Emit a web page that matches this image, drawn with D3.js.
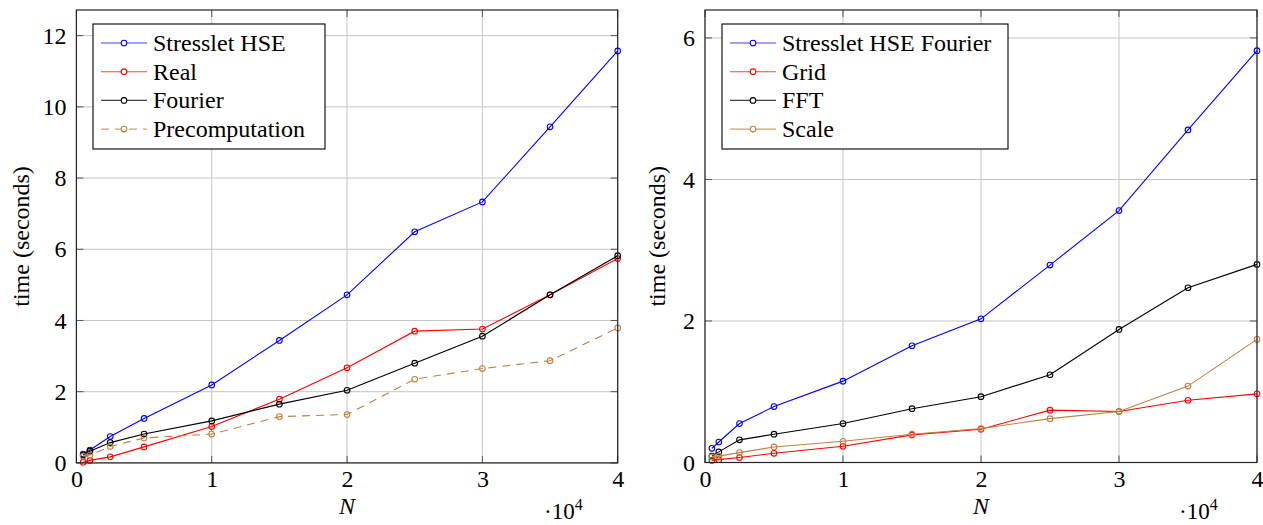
<!DOCTYPE html>
<html>
<head>
<meta charset="utf-8">
<script src="https://cdn.jsdelivr.net/npm/d3@7"></script>
<style>
  html, body { margin: 0; padding: 0; background: #fff; }
  svg { display: block; }
  text { font-family: "Liberation Serif", "Times New Roman", serif; fill: #000; }
</style>
</head>
<body>
<svg id="chart" width="1263" height="525"></svg>
<script>
// ---------- data ----------
const N = [500, 1000, 2500, 5000, 10000, 15000, 20000, 25000, 30000, 35000, 40000];

// left panel
const leftStressletHSE = [0.25, 0.36, 0.74, 1.25, 2.19, 3.44, 4.72, 6.49, 7.33, 9.44, 11.57];
const leftReal         = [0.02, 0.07, 0.17, 0.45, 1.02, 1.79, 2.67, 3.70, 3.76, 4.72, 5.74];
const leftFourier      = [0.22, 0.33, 0.57, 0.81, 1.18, 1.65, 2.04, 2.80, 3.56, 4.72, 5.82];
const leftPrecomp      = [0.19, 0.22, 0.46, 0.70, 0.81, 1.30, 1.36, 2.35, 2.65, 2.87, 3.79];

// right panel
const rightStressletHSEFourier = [0.20, 0.29, 0.55, 0.79, 1.15, 1.65, 2.03, 2.79, 3.56, 4.70, 5.82];
const rightGrid  = [0.03, 0.04, 0.07, 0.13, 0.23, 0.39, 0.47, 0.74, 0.72, 0.88, 0.97];
const rightFFT   = [0.09, 0.15, 0.32, 0.40, 0.55, 0.76, 0.93, 1.24, 1.88, 2.47, 2.80];
const rightScale = [0.08, 0.09, 0.14, 0.22, 0.30, 0.40, 0.48, 0.62, 0.72, 1.08, 1.74];

const leftNames  = ["Stresslet HSE", "Real", "Fourier", "Precomputation"];
const rightNames = ["Stresslet HSE Fourier", "Grid", "FFT", "Scale"];

const xTicks = [0, 10000, 20000, 30000, 40000];
const xTickLabels = ["0", "1", "2", "3", "4"];
const leftYTicks = [0, 2, 4, 6, 8, 10, 12];
const rightYTicks = [0, 2, 4, 6];

const xLabel = "N";
const yLabel = "time (seconds)";

// ---------- styles ----------
const COLORS = { blue: "#0000ff", red: "#ff0000", black: "#000000", brown: "#bf8040" };
const FONT = 24;

const svg = d3.select("#chart");

function panel(cfg) {
  const g = svg.append("g");
  const x = d3.scaleLinear().domain([0, 40000]).range([cfg.x0, cfg.x1]);
  const y = d3.scaleLinear().domain([0, cfg.yMax]).range([cfg.yBottom, cfg.yTop]);

  // grid
  const grid = g.append("g");
  grid.selectAll("line.gx").data(xTicks).join("line")
    .attr("x1", d => x(d)).attr("x2", d => x(d))
    .attr("y1", cfg.yTop).attr("y2", cfg.yBottom)
    .attr("stroke", "#c4c4c4").attr("stroke-width", 1);
  grid.selectAll("line.gy").data(cfg.yTicks).join("line")
    .attr("y1", d => y(d)).attr("y2", d => y(d))
    .attr("x1", cfg.x0).attr("x2", cfg.x1)
    .attr("stroke", "#c4c4c4").attr("stroke-width", 1);

  // inner ticks on all sides
  const tk = 7;
  const ticks = g.append("g").attr("stroke", "#555").attr("stroke-width", 1);
  xTicks.forEach(d => {
    ticks.append("line").attr("x1", x(d)).attr("x2", x(d)).attr("y1", cfg.yBottom).attr("y2", cfg.yBottom - tk);
    ticks.append("line").attr("x1", x(d)).attr("x2", x(d)).attr("y1", cfg.yTop).attr("y2", cfg.yTop + tk);
  });
  cfg.yTicks.forEach(d => {
    ticks.append("line").attr("y1", y(d)).attr("y2", y(d)).attr("x1", cfg.x0).attr("x2", cfg.x0 + tk);
    ticks.append("line").attr("y1", y(d)).attr("y2", y(d)).attr("x1", cfg.x1).attr("x2", cfg.x1 - tk);
  });

  // axes (labels only)
  const ax = g.append("g").attr("transform", `translate(0,${cfg.yBottom})`)
    .call(d3.axisBottom(x).tickValues(xTicks).tickFormat((d, i) => xTickLabels[i]).tickSize(0).tickPadding(7));
  ax.select(".domain").remove();
  ax.selectAll("text").attr("font-size", FONT).attr("font-family", "Liberation Serif").attr("fill", "#000");

  const ay = g.append("g").attr("transform", `translate(${cfg.x0},0)`)
    .call(d3.axisLeft(y).tickValues(cfg.yTicks).tickFormat(d3.format("d")).tickSize(0).tickPadding(10));
  ay.select(".domain").remove();
  ay.selectAll("text").attr("font-size", FONT).attr("font-family", "Liberation Serif").attr("fill", "#000");

  // series
  const line = d3.line().x((d, i) => x(N[i])).y(d => y(d));
  cfg.series.forEach(s => {
    g.append("path").datum(s.values)
      .attr("d", line).attr("fill", "none")
      .attr("stroke", s.color).attr("stroke-width", 1.1)
      .attr("stroke-dasharray", s.dash || null);
    g.selectAll(null).data(s.values).join("circle")
      .attr("cx", (d, i) => x(N[i])).attr("cy", d => y(d)).attr("r", 2.8)
      .attr("fill", "none").attr("stroke", s.color).attr("stroke-width", 1.1);
  });

  // frame
  g.append("rect").attr("x", cfg.x0).attr("y", cfg.yTop)
    .attr("width", cfg.x1 - cfg.x0).attr("height", cfg.yBottom - cfg.yTop)
    .attr("fill", "none").attr("stroke", "#222").attr("stroke-width", 1.2);

  // axis labels
  g.append("text").attr("x", (cfg.x0 + cfg.x1) / 2).attr("y", 514)
    .attr("text-anchor", "middle").attr("font-size", FONT).attr("font-style", "italic")
    .text(xLabel);
  const yl = (cfg.yTop + cfg.yBottom) / 2;
  g.append("text").attr("transform", `translate(${cfg.ylabX},${yl}) rotate(-90)`)
    .attr("text-anchor", "middle").attr("font-size", FONT).text(yLabel);

  // scale exponent
  const ex = g.append("text").attr("x", cfg.expX).attr("y", 519).attr("font-size", FONT - 1);
  ex.append("tspan").text("\u00b710");
  ex.append("tspan").attr("dy", -9).attr("font-size", 16).text("4");

  // legend
  const lg = g.append("g");
  const lx = cfg.legX, ly = 24, rowH = 28.7;
  lg.append("rect").attr("x", lx).attr("y", ly).attr("width", cfg.legW).attr("height", 125)
    .attr("fill", "#fff").attr("stroke", "#000").attr("stroke-width", 1.1);
  cfg.series.forEach((s, i) => {
    const cy = ly + 19 + i * rowH;
    lg.append("line").attr("x1", lx + 8).attr("x2", lx + 54).attr("y1", cy).attr("y2", cy)
      .attr("stroke", s.color).attr("stroke-width", 1.1).attr("stroke-opacity", 0.75)
      .attr("stroke-dasharray", s.dash || null);
    lg.append("circle").attr("cx", lx + 31).attr("cy", cy).attr("r", 2.8)
      .attr("fill", "#fff").attr("stroke", s.color).attr("stroke-width", 1.1);
    lg.append("text").attr("x", lx + 60).attr("y", cy + 8).attr("font-size", FONT).text(s.name);
  });
}

panel({
  x0: 76.4, x1: 617.7, yTop: 10, yBottom: 462.9, yMax: 12.72, yTicks: leftYTicks,
  ylabX: 29, expX: 544, legX: 93, legW: 232,
  series: [
    { name: leftNames[0], values: leftStressletHSE, color: COLORS.blue },
    { name: leftNames[1], values: leftReal, color: COLORS.red },
    { name: leftNames[2], values: leftFourier, color: COLORS.black },
    { name: leftNames[3], values: leftPrecomp, color: COLORS.brown, dash: "8,6" }
  ]
});

panel({
  x0: 705, x1: 1257, yTop: 10, yBottom: 462.5, yMax: 6.395, yTicks: rightYTicks,
  ylabX: 665, expX: 1179, legX: 722, legW: 286,
  series: [
    { name: rightNames[0], values: rightStressletHSEFourier, color: COLORS.blue },
    { name: rightNames[1], values: rightGrid, color: COLORS.red },
    { name: rightNames[2], values: rightFFT, color: COLORS.black },
    { name: rightNames[3], values: rightScale, color: COLORS.brown }
  ]
});
</script>
</body>
</html>
